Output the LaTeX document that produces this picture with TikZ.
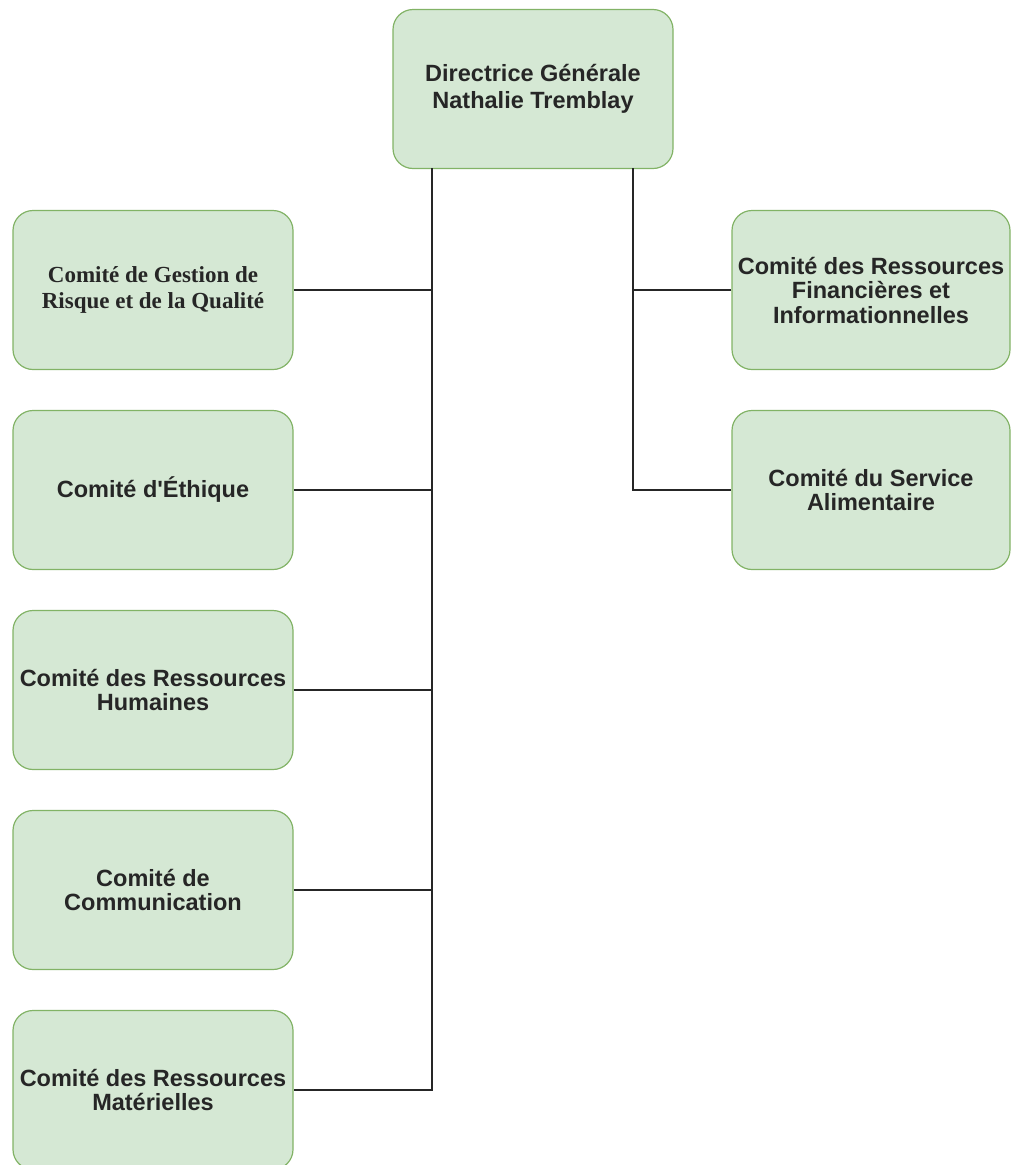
\documentclass[tikz,border=0pt]{standalone}
\usepackage{fontspec}
\newfontfamily\arialb{Liberation Sans}
\newfontfamily\serifb{Liberation Serif}
\begin{document}
\begin{tikzpicture}[x=1pt,y=-1pt,
  box/.style={draw=boxline, fill=boxfill, line width=1.2pt, rounded corners=20pt,
    minimum width=280pt, minimum height=159pt, align=center, inner sep=0pt,
    font=\arialb\fontsize{23.5}{24.5}\selectfont\bfseries, text=black!85},
  conn/.style={draw=black!85, line width=1.8pt}]
\definecolor{boxfill}{HTML}{D5E8D4}
\definecolor{boxline}{HTML}{82B366}
\useasboundingbox (0,0) rectangle (1012,1165);
\node[box] (top) at (533,89) {Directrice Générale\\[3pt]Nathalie Tremblay};
\node[box, font=\serifb\fontsize{23}{26}\selectfont\bfseries] (l1) at (153,290) {Comité de Gestion de\\Risque et de la Qualité};
\node[box] (l2) at (153,490) {Comité d'Éthique};
\node[box] (l3) at (153,690) {Comité des Ressources\\Humaines};
\node[box] (l4) at (153,890) {Comité de\\Communication};
\node[box] (l5) at (153,1090) {Comité des Ressources\\Matérielles};
\node[box, minimum width=278pt] (r1) at (871,290) {Comité des Ressources\\Financières et\\Informationnelles};
\node[box, minimum width=278pt] (r2) at (871,490) {Comité du Service\\Alimentaire};
\coordinate (tl) at (432,168);
\coordinate (tr) at (633,168);
\draw[conn] (tl) |- (l5.east);
\draw[conn] (l1.east) -- (l1.east -| tl);
\draw[conn] (l2.east) -- (l2.east -| tl);
\draw[conn] (l3.east) -- (l3.east -| tl);
\draw[conn] (l4.east) -- (l4.east -| tl);
\draw[conn] (tr) |- (r2.west);
\draw[conn] (r1.west) -- (r1.west -| tr);
\end{tikzpicture}
\end{document}
